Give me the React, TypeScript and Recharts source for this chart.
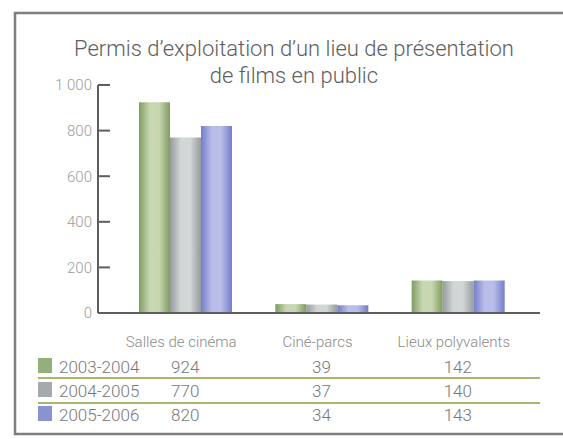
import React from 'react';
import { BarChart, Bar, XAxis, YAxis } from 'recharts';

const categories = ['Salles de cinéma', 'Ciné-parcs', 'Lieux polyvalents'];
const seriesNames = ['2003-2004', '2004-2005', '2005-2006'];
const values2003 = [924, 39, 142];
const values2004 = [770, 37, 140];
const values2005 = [820, 34, 143];
const yTicks = [0, 200, 400, 600, 800, 1000];
const yTickLabels = ['0', '200', '400', '600', '800', '1 000'];
const titleLines = ["Permis d\u2019exploitation d\u2019un lieu de présentation", 'de films en public'];

const seriesValues = [values2003, values2004, values2005];
const keys = ['s0', 's1', 's2'];
const data = categories.map((c, i) => ({
  cat: c,
  s0: values2003[i],
  s1: values2004[i],
  s2: values2005[i],
}));

const FONT = 'Roboto, "Liberation Sans", Arial, sans-serif';
const W = 563;
const H = 439;
const MARGIN = { top: 85, right: 23, bottom: 26, left: 0 };
const Y_AXIS_W = 98;
const X_AXIS_H = 100;
const Y_MAX = 1000;
const TICK_LEN = 12;
const AXIS_COLOR = '#5e5e5e';

const PLOT_LEFT = MARGIN.left + Y_AXIS_W;
const PLOT_TOP = MARGIN.top;
const PLOT_H = H - MARGIN.top - MARGIN.bottom - X_AXIS_H;

const gradients = [
  { id: 'g0', edge: '#7f9c5f', mid: '#c8d6b2', swatch: '#94ae7c' },
  { id: 'g1', edge: '#969b9e', mid: '#d3d6d7', swatch: '#a6aaac' },
  { id: 'g2', edge: '#747dc9', mid: '#b9bde9', swatch: '#8b92d2' },
];

const XTick = (props: any) => {
  const { x, y, payload } = props;
  const i = categories.indexOf(payload.value);
  return (
    <g>
      <text x={x - 4} y={y + 34} textAnchor="middle" fill="#8a8a8a" fontSize={15} fontFamily={FONT} fontWeight={300}>
        {payload.value}
      </text>
      {seriesValues.map((vals, r) => (
        <text key={r} x={x} y={y + 60 + r * 24} textAnchor="middle" fill="#777" fontSize={17} fontFamily={FONT} fontWeight={300}>
          {vals[i]}
        </text>
      ))}
    </g>
  );
};

export default function App() {
  return (
    <div style={{ position: 'absolute', left: 0, top: 0, width: W, height: H, background: '#fff', overflow: 'hidden' }}>
      <svg width={W} height={H} style={{ position: 'absolute', left: 0, top: 0 }}>
        <path d="M 600 13 L 15 13 L 15 434 L 600 434" fill="none" stroke="#7e7e7e" strokeWidth={2.5} />
        {titleLines.map((t, i) => (
          <text key={i} x={294} y={56 + i * 27} textAnchor="middle" fill="#5e5e5e" fontSize={22} fontFamily={FONT} fontWeight={300}>
            {t}
          </text>
        ))}
        {seriesNames.map((n, r) => (
          <g key={n}>
            <rect x={38} y={358 + r * 24} width={14} height={15} fill={gradients[r].swatch} />
            <text x={59} y={373 + r * 24} fill="#777" fontSize={17} fontFamily={FONT} fontWeight={300}>
              {n}
            </text>
          </g>
        ))}
        {[378, 403].map((ly) => (
          <line key={ly} x1={38} x2={540} y1={ly} y2={ly} stroke="#8c9c40" strokeWidth={1.5} />
        ))}
      </svg>
      <div style={{ position: 'absolute', left: 0, top: 0 }}>
        <BarChart width={W} height={H} data={data} margin={MARGIN} barGap={0} barSize={31}>
          <defs>
            {gradients.map((g) => (
              <linearGradient key={g.id} id={g.id} x1="0" y1="0" x2="1" y2="0">
                <stop offset="0%" stopColor={g.edge} />
                <stop offset="35%" stopColor={g.mid} />
                <stop offset="65%" stopColor={g.mid} />
                <stop offset="100%" stopColor={g.edge} />
              </linearGradient>
            ))}
          </defs>
          <XAxis
            dataKey="cat"
            height={X_AXIS_H}
            tickSize={0}
            tickMargin={0}
            tickLine={false}
            axisLine={{ stroke: AXIS_COLOR, strokeWidth: 2 }}
            padding={{ left: 19, right: 14 }}
            tick={<XTick />}
            interval={0}
          />
          <YAxis
            width={Y_AXIS_W}
            domain={[0, Y_MAX]}
            ticks={yTicks}
            tickSize={0}
            tickMargin={6}
            tickLine={false}
            axisLine={{ stroke: AXIS_COLOR, strokeWidth: 2 }}
            tick={{ fill: '#9c9c9c', fontSize: 15, fontFamily: FONT, fontWeight: 300 }}
            tickFormatter={(v: number) => yTickLabels[yTicks.indexOf(v)] ?? String(v)}
            interval={0}
          />
          {keys.map((k, i) => (
            <Bar key={k} dataKey={k} name={seriesNames[i]} fill={`url(#${gradients[i].id})`} isAnimationActive={false} />
          ))}
        </BarChart>
      </div>
      <svg width={W} height={H} style={{ position: 'absolute', left: 0, top: 0, pointerEvents: 'none' }}>
        {yTicks.filter((v) => v > 0).map((v) => {
          const ty = PLOT_TOP + (1 - v / Y_MAX) * PLOT_H;
          return <line key={v} x1={PLOT_LEFT} x2={PLOT_LEFT + TICK_LEN} y1={ty} y2={ty} stroke={AXIS_COLOR} strokeWidth={2} />;
        })}
      </svg>
    </div>
  );
}
